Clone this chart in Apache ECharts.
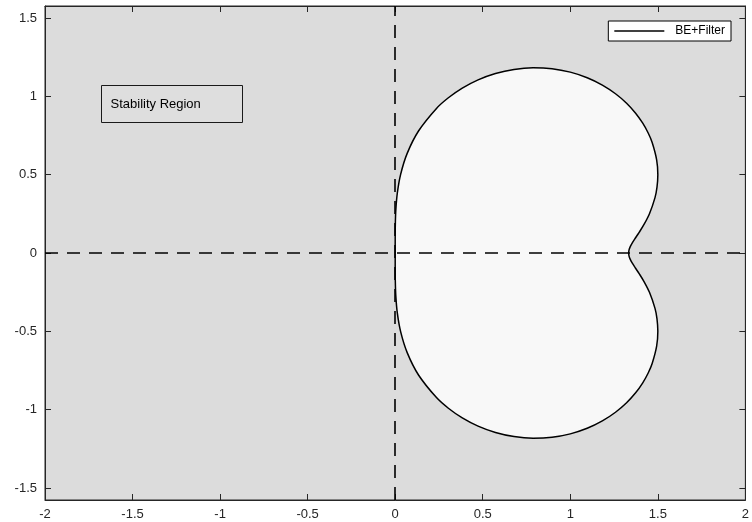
<!DOCTYPE html>
<html><head><meta charset="utf-8">
<script src="https://cdn.jsdelivr.net/npm/echarts@6/dist/echarts.min.js"></script>
<style>html,body{margin:0;padding:0;background:#fff}#c{width:752px;height:522px}</style>
</head><body><div id="c"></div>
<script>
// Boundary of the BE+Filter stability region (upper half)
const upperX = [0, 0.00004, 0.0007, 0.0037, 0.0123, 0.0314, 0.0685, 0.1332, 0.2358, 0.3038, 0.3832, 0.4734, 0.5727, 0.6786, 0.7876, 0.8959, 1.0, 1.0965, 1.1831, 1.2582, 1.3215, 1.3731, 1.4138, 1.4449, 1.4676, 1.4932, 1.5, 1.4952, 1.4838, 1.4528, 1.4211, 1.3933, 1.3710, 1.3542, 1.3425, 1.3356, 1.3333];
const upperY = [0, 0.0878, 0.1790, 0.2767, 0.3842, 0.5038, 0.6362, 0.7789, 0.9232, 0.9912, 1.0529, 1.1055, 1.1461, 1.1723, 1.1826, 1.1765, 1.1547, 1.1191, 1.0721, 1.0168, 0.9561, 0.8926, 0.8286, 0.7659, 0.7055, 0.5950, 0.5, 0.4201, 0.3536, 0.2527, 0.1823, 0.1318, 0.0942, 0.0648, 0.0407, 0.0196, 0];
// lower half
const lowerX = [0, 0.00004, 0.0007, 0.0037, 0.0123, 0.0314, 0.0685, 0.1332, 0.2358, 0.3038, 0.3832, 0.4734, 0.5727, 0.6786, 0.7876, 0.8959, 1.0, 1.0965, 1.1831, 1.2582, 1.3215, 1.3731, 1.4138, 1.4449, 1.4676, 1.4932, 1.5, 1.4952, 1.4838, 1.4528, 1.4211, 1.3933, 1.3710, 1.3542, 1.3425, 1.3356, 1.3333];
const lowerY = [0, -0.0878, -0.1790, -0.2767, -0.3842, -0.5038, -0.6362, -0.7789, -0.9232, -0.9912, -1.0529, -1.1055, -1.1461, -1.1723, -1.1826, -1.1765, -1.1547, -1.1191, -1.0721, -1.0168, -0.9561, -0.8926, -0.8286, -0.7659, -0.7055, -0.5950, -0.5, -0.4201, -0.3536, -0.2527, -0.1823, -0.1318, -0.0942, -0.0648, -0.0407, -0.0196, 0];
const xTicks = [-2, -1.5, -1, -0.5, 0, 0.5, 1, 1.5, 2];
const yTicks = [-1.5, -1, -0.5, 0, 0.5, 1, 1.5];
const seriesName = 'BE+Filter';
const annotation = 'Stability Region';

const upper = upperX.map((x, i) => [x, upperY[i]]);
const lower = lowerX.map((x, i) => [x, lowerY[i]]);

const font = 'Liberation Sans, Arial, sans-serif';
const axisCol = '#262626';
const fmt = v => String(v);

const chart = echarts.init(document.getElementById('c'), null, {renderer: 'canvas'});
const baseX = {
  type: 'value', min: -2, max: 2,
  axisLine: {show: true, onZero: false, lineStyle: {color: axisCol, width: 1}},
  splitLine: {show: false},
  axisTick: {show: true, inside: true, length: 6, customValues: xTicks, lineStyle: {color: axisCol}},
  axisLabel: {show: true, customValues: xTicks, formatter: fmt, color: axisCol, fontFamily: font, fontSize: 13, margin: 8}
};
const baseY = {
  type: 'value', min: -1.577, max: 1.577,
  axisLine: {show: true, onZero: false, lineStyle: {color: axisCol, width: 1}},
  splitLine: {show: false},
  axisTick: {show: true, inside: true, length: 6, customValues: yTicks, lineStyle: {color: axisCol}},
  axisLabel: {show: true, customValues: yTicks, formatter: fmt, color: axisCol, fontFamily: font, fontSize: 13, margin: 8}
};
chart.setOption({
  animation: false,
  backgroundColor: '#ffffff',
  grid: {left: 45, right: 4, top: 6, bottom: 22, show: true, backgroundColor: '#dcdcdc', borderColor: axisCol, borderWidth: 1},
  xAxis: [
    baseX,
    Object.assign({}, baseX, {position: 'top', axisLabel: {show: false}})
  ],
  yAxis: [
    baseY,
    Object.assign({}, baseY, {position: 'right', axisLabel: {show: false}})
  ],
  legend: {
    data: [{name: seriesName, icon: 'rect'}], right: 21, top: 21,
    backgroundColor: '#ffffff', borderColor: '#000', borderWidth: 1, borderRadius: 0,
    padding: [4, 6, 4, 6], itemWidth: 50, itemHeight: 1.5, itemGap: 5,
    itemStyle: {color: '#000', borderWidth: 0},
    textStyle: {fontFamily: font, fontSize: 12, color: '#000', padding: [0, 0, 0, 6]}
  },
  graphic: [{
    type: 'group', left: 101, top: 85,
    children: [
      {type: 'rect', shape: {x: 0, y: 0, width: 141, height: 37}, style: {fill: '#dedede', stroke: '#1a1a1a', lineWidth: 1}},
      {type: 'text', x: 9, y: 18.5, style: {text: annotation, fontFamily: font, fontSize: 13, fill: '#000', verticalAlign: 'middle'}}
    ]
  }],
  series: [
    {name: seriesName, type: 'line', data: upper, symbol: 'none', smooth: 0.3, z: 2,
     lineStyle: {color: '#000', width: 1.5}, itemStyle: {color: '#000'},
     areaStyle: {color: '#f8f8f8', opacity: 1, origin: 0}},
    {name: seriesName, type: 'line', data: lower, symbol: 'none', smooth: 0.3, z: 2,
     lineStyle: {color: '#000', width: 1.5}, itemStyle: {color: '#000'},
     areaStyle: {color: '#f8f8f8', opacity: 1, origin: 0}},
    {name: 'axes', type: 'line', data: [], z: 5, silent: true,
     markLine: {symbol: 'none', silent: true, label: {show: false},
       lineStyle: {color: '#000', type: [13, 9], width: 1.6},
       data: [{xAxis: 0}, {yAxis: 0}]}}
  ]
});
</script></body></html>
